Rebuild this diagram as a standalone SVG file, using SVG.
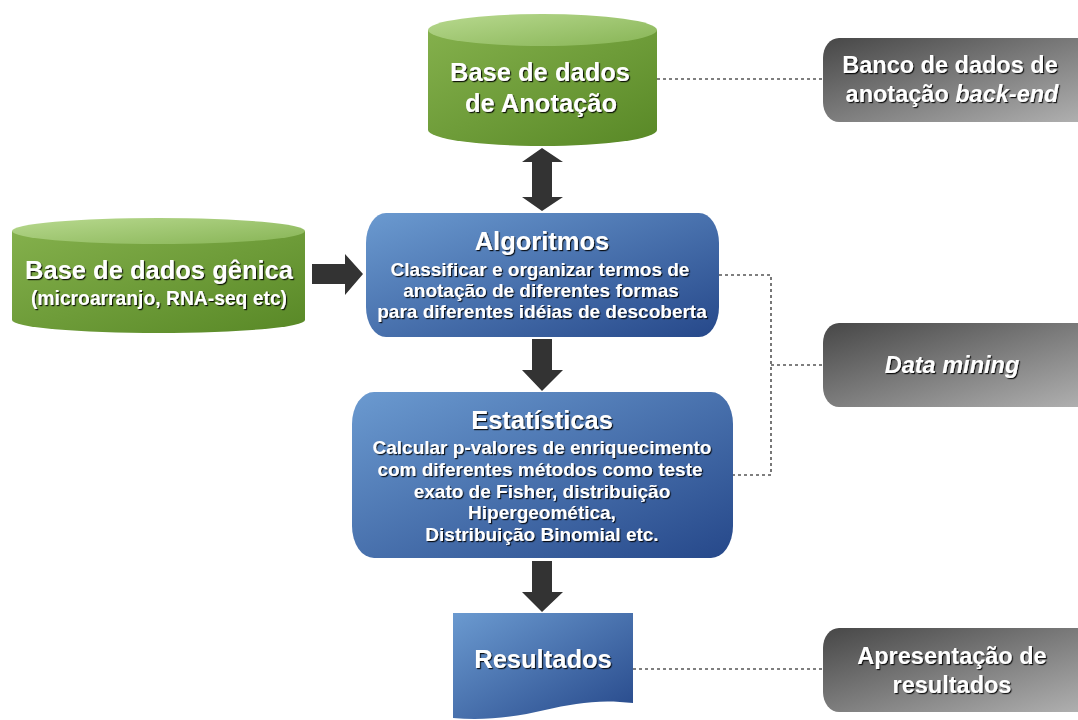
<svg xmlns="http://www.w3.org/2000/svg" width="1078" height="720" viewBox="0 0 1078 720">
  <defs>
    <linearGradient id="gBody" x1="0" y1="0" x2="1" y2="1">
      <stop offset="0" stop-color="#84b04c"/>
      <stop offset="1" stop-color="#588826"/>
    </linearGradient>
    <linearGradient id="gTop" x1="0" y1="0" x2="1" y2="1">
      <stop offset="0" stop-color="#b8d98f"/>
      <stop offset="1" stop-color="#87b455"/>
    </linearGradient>
    <linearGradient id="bFill" x1="0" y1="0" x2="1" y2="1">
      <stop offset="0" stop-color="#6b9ad0"/>
      <stop offset="1" stop-color="#26488a"/>
    </linearGradient>
    <linearGradient id="kFill" x1="0" y1="0" x2="1" y2="1">
      <stop offset="0" stop-color="#474747"/>
      <stop offset="1" stop-color="#b3b3b3"/>
    </linearGradient>
    <filter id="shadow" x="-10%" y="-30%" width="120%" height="160%">
      <feDropShadow dx="1.2" dy="1.2" stdDeviation="0.4" flood-color="#000" flood-opacity="0.85"/>
    </filter>
  </defs>
  <style>
    text { font-family: "Liberation Sans", Arial, sans-serif; font-weight: bold; fill: #ffffff; text-anchor: middle; filter: url(#shadow); }
    .title { font-size: 25.5px; }
    .sub { font-size: 19px; }
    .side { font-size: 23.5px; }
    .conn { fill: none; stroke: #555; stroke-width: 1.6; stroke-dasharray: 3 3; }
    .arrow { fill: #333333; }
  </style>

  <!-- dotted connectors and block arrows -->
  <g id="connectors">
    <path class="conn" d="M657,79 H823"/>
    <path class="conn" d="M719,275 H771 V475 H733"/>
    <path class="conn" d="M771,365 H823"/>
    <path class="conn" d="M633,669 H823"/>
    <polygon class="arrow" points="542,148 563,162 552,162 552,197 563,197 542,211 522,197 532,197 532,162 522,162"/>
    <polygon class="arrow" points="312,264 345,264 345,254 363,274 345,295 345,284 312,284"/>
    <polygon class="arrow" points="532,339 552,339 552,370 563,370 542,391 522,370 532,370"/>
    <polygon class="arrow" points="532,561 552,561 552,592 563,592 542,612 522,592 532,592"/>
  </g>

  <!-- annotation database cylinder -->
  <g id="anotacao">
    <path d="M428,30 V130 A114.5,16 0 0 0 657,130 V30 Z" fill="url(#gBody)"/>
    <ellipse cx="542.5" cy="30" rx="114.5" ry="16" fill="url(#gTop)"/>
    <text class="title" x="540" y="81">Base de dados</text>
    <text class="title" x="541" y="112">de Anotação</text>
  </g>

  <!-- gene database cylinder -->
  <g id="genica">
    <path d="M12,231 V320 A146.5,13 0 0 0 305,320 V231 Z" fill="url(#gBody)"/>
    <ellipse cx="158.5" cy="231" rx="146.5" ry="13" fill="url(#gTop)"/>
    <text class="title" x="159" y="279">Base de dados gênica</text>
    <text style="font-size:19.3px" x="159" y="305">(microarranjo, RNA-seq etc)</text>
  </g>

  <!-- algorithms -->
  <g id="algoritmos">
    <rect x="366" y="213" width="353" height="124" rx="20" ry="30" fill="url(#bFill)"/>
    <text class="title" x="542" y="250">Algoritmos</text>
    <text class="sub" x="540" y="276">Classificar e organizar termos de</text>
    <text class="sub" x="541" y="297">anotação de diferentes formas</text>
    <text class="sub" x="542" y="318">para diferentes idéias de descoberta</text>
  </g>

  <!-- statistics -->
  <g id="estatisticas">
    <rect x="352" y="392" width="381" height="166" rx="22" ry="32" fill="url(#bFill)"/>
    <text class="title" x="542" y="429">Estatísticas</text>
    <text class="sub" x="542" y="454">Calcular p-valores de enriquecimento</text>
    <text class="sub" x="540" y="476">com diferentes métodos como teste</text>
    <text class="sub" x="542" y="498">exato de Fisher, distribuição</text>
    <text class="sub" x="542" y="519">Hipergeomética,</text>
    <text class="sub" x="542" y="541">Distribuição Binomial etc.</text>
  </g>

  <!-- results document -->
  <g id="resultados">
    <path d="M453,613 H633 V703 C600,699 575,703 545,710 C515,717 485,721 453,718 Z" fill="url(#bFill)"/>
    <text class="title" x="543" y="668">Resultados</text>
  </g>

  <!-- side labels -->
  <g id="backend">
    <rect x="823" y="38" width="275" height="84" rx="16" ry="20" fill="url(#kFill)"/>
    <text class="side" x="950" y="73">Banco de dados de</text>
    <text class="side" x="952" y="102">anotação <tspan font-style="italic">back-end</tspan></text>
  </g>

  <g id="datamining">
    <rect x="823" y="323" width="275" height="84" rx="16" ry="20" fill="url(#kFill)"/>
    <text class="side" x="952" y="373" font-style="italic">Data mining</text>
  </g>

  <g id="apresentacao">
    <rect x="823" y="628" width="275" height="84" rx="16" ry="20" fill="url(#kFill)"/>
    <text class="side" x="952" y="664">Apresentação de</text>
    <text class="side" x="952" y="693">resultados</text>
  </g>
</svg>
